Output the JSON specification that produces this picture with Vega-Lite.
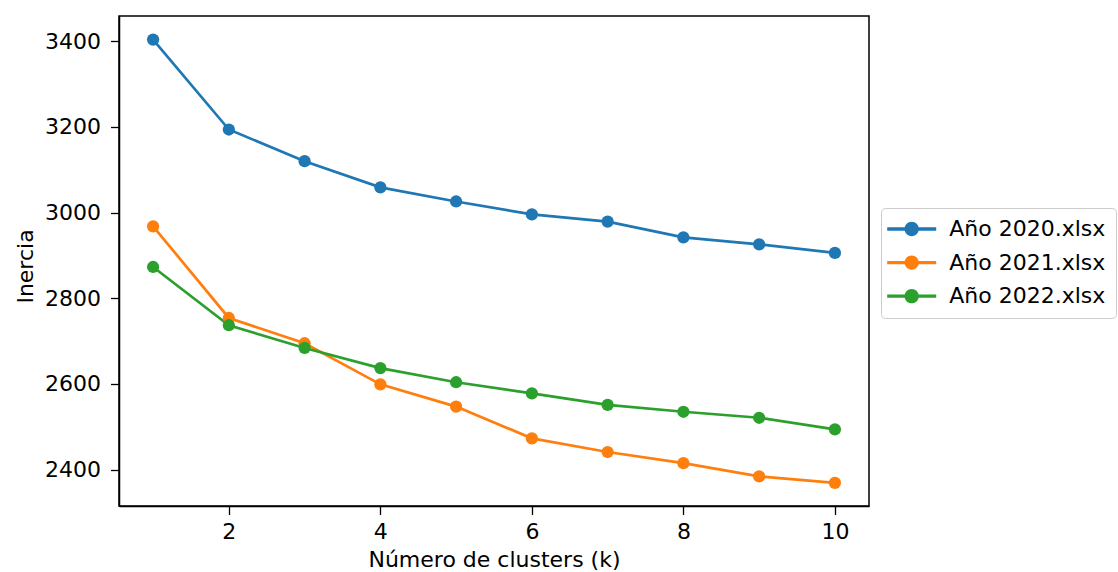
{
  "$schema": "https://vega.github.io/schema/vega-lite/v6.json",
  "width": 750,
  "height": 490,
  "autosize": {"type": "none"},
  "padding": {"left": 119, "top": 16, "right": 249, "bottom": 66},
  "background": "white",
  "config": {
    "font": "DejaVu Sans",
    "view": {"stroke": "black", "strokeWidth": 1.5},
    "axis": {
      "grid": false,
      "labelFontSize": 22,
      "labelColor": "black",
      "labelFont": "DejaVu Sans",
      "titleFont": "DejaVu Sans",
      "titleFontSize": 22,
      "titleFontWeight": "normal",
      "titleColor": "black",
      "tickColor": "black",
      "tickSize": 8.5,
      "tickWidth": 1.3,
      "domainColor": "black",
      "domainWidth": 1.5
    }
  },
  "data": {
    "values": [
      {"k": 1, "inercia": 3404, "serie": "Año 2020.xlsx"},
      {"k": 2, "inercia": 3194, "serie": "Año 2020.xlsx"},
      {"k": 3, "inercia": 3120, "serie": "Año 2020.xlsx"},
      {"k": 4, "inercia": 3059, "serie": "Año 2020.xlsx"},
      {"k": 5, "inercia": 3026, "serie": "Año 2020.xlsx"},
      {"k": 6, "inercia": 2996, "serie": "Año 2020.xlsx"},
      {"k": 7, "inercia": 2979, "serie": "Año 2020.xlsx"},
      {"k": 8, "inercia": 2942, "serie": "Año 2020.xlsx"},
      {"k": 9, "inercia": 2926, "serie": "Año 2020.xlsx"},
      {"k": 10, "inercia": 2906, "serie": "Año 2020.xlsx"},
      {"k": 1, "inercia": 2968, "serie": "Año 2021.xlsx"},
      {"k": 2, "inercia": 2754, "serie": "Año 2021.xlsx"},
      {"k": 3, "inercia": 2695, "serie": "Año 2021.xlsx"},
      {"k": 4, "inercia": 2599, "serie": "Año 2021.xlsx"},
      {"k": 5, "inercia": 2547, "serie": "Año 2021.xlsx"},
      {"k": 6, "inercia": 2473, "serie": "Año 2021.xlsx"},
      {"k": 7, "inercia": 2441, "serie": "Año 2021.xlsx"},
      {"k": 8, "inercia": 2415, "serie": "Año 2021.xlsx"},
      {"k": 9, "inercia": 2384, "serie": "Año 2021.xlsx"},
      {"k": 10, "inercia": 2369, "serie": "Año 2021.xlsx"},
      {"k": 1, "inercia": 2873, "serie": "Año 2022.xlsx"},
      {"k": 2, "inercia": 2737, "serie": "Año 2022.xlsx"},
      {"k": 3, "inercia": 2684, "serie": "Año 2022.xlsx"},
      {"k": 4, "inercia": 2637, "serie": "Año 2022.xlsx"},
      {"k": 5, "inercia": 2604, "serie": "Año 2022.xlsx"},
      {"k": 6, "inercia": 2578, "serie": "Año 2022.xlsx"},
      {"k": 7, "inercia": 2551, "serie": "Año 2022.xlsx"},
      {"k": 8, "inercia": 2535, "serie": "Año 2022.xlsx"},
      {"k": 9, "inercia": 2521, "serie": "Año 2022.xlsx"},
      {"k": 10, "inercia": 2494, "serie": "Año 2022.xlsx"}
    ]
  },
  "encoding": {
    "x": {
      "field": "k",
      "type": "quantitative",
      "scale": {"domain": [0.55, 10.45], "nice": false, "zero": false},
      "axis": {"values": [2, 4, 6, 8, 10], "format": "d", "title": "Número de clusters (k)", "labelPadding": 7, "titlePadding": 7}
    },
    "y": {
      "field": "inercia",
      "type": "quantitative",
      "scale": {"domain": [2315, 3459], "nice": false, "zero": false},
      "axis": {"values": [2400, 2600, 2800, 3000, 3200, 3400], "format": "d", "title": "Inercia", "labelPadding": 10, "titleX": -87, "titleY": 250, "titleBaseline": "alphabetic"}
    },
    "color": {
      "field": "serie",
      "type": "nominal",
      "scale": {
        "domain": ["Año 2020.xlsx", "Año 2021.xlsx", "Año 2022.xlsx"],
        "range": ["#1f77b4", "#ff7f0e", "#2ca02c"]
      },
      "legend": {
        "title": null,
        "orient": "none",
        "legendX": 762,
        "legendY": 192,
        "padding": 10,
        "rowPadding": 11.6,
        "labelFontSize": 22,
        "labelFont": "DejaVu Sans",
        "labelColor": "black",
        "symbolType": "M-3.5,-0.235H3.5V0.235H-3.5Z M0,-1.02A1.02,1.02 0 1,1 0,1.02A1.02,1.02 0 1,1 0,-1.02Z",
        "symbolSize": 196,
        "symbolStrokeWidth": 0,
        "symbolOpacity": 1,
        "symbolOffset": 9.7,
        "labelOffset": 26.5,
        "strokeColor": "#cccccc",
        "fillColor": "white",
        "cornerRadius": 4
      }
    }
  },
  "layer": [
    {"mark": {"type": "line", "strokeWidth": 2.7}},
    {"mark": {"type": "point", "filled": true, "size": 150, "opacity": 1}}
  ]
}
